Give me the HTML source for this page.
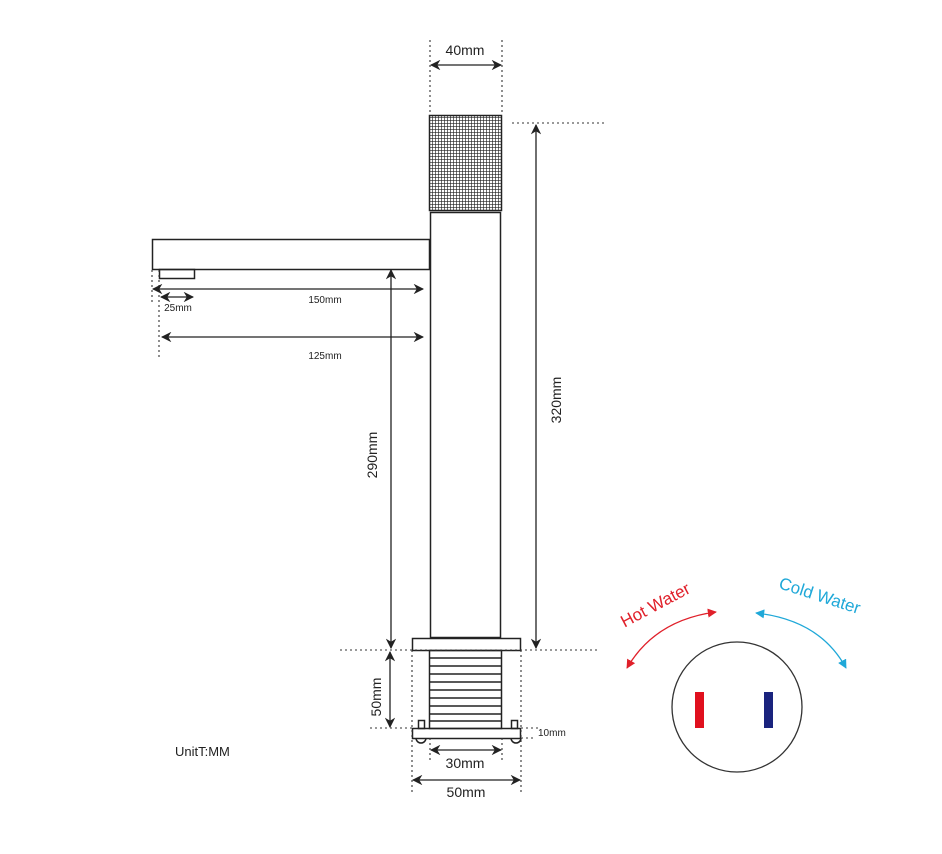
<!DOCTYPE html>
<html><head><style>html,body{margin:0;padding:0;background:#fff}svg{display:block}</style></head><body>
<svg width="942" height="854" viewBox="0 0 942 854" xmlns="http://www.w3.org/2000/svg" font-family="Liberation Sans, sans-serif">
<defs>
<pattern id="g" width="3" height="3" patternUnits="userSpaceOnUse"><rect width="3" height="3" fill="#fff"/><path d="M0 0H3M0 0V3" stroke="#222" stroke-width="1.3"/></pattern>
<marker id="a" viewBox="0 0 10 10" refX="9" refY="5" markerWidth="8" markerHeight="8" orient="auto-start-reverse"><path d="M0 0L10 5L0 10L3 5z" fill="#222"/></marker>
<marker id="r" viewBox="0 0 10 10" refX="9" refY="5" markerWidth="7" markerHeight="7" orient="auto-start-reverse"><path d="M0 0L10 5L0 10z" fill="#e0202a"/></marker>
<marker id="c" viewBox="0 0 10 10" refX="9" refY="5" markerWidth="7" markerHeight="7" orient="auto-start-reverse"><path d="M0 0L10 5L0 10z" fill="#1fa8d8"/></marker>
</defs>
<g fill="none" stroke="#222" stroke-width="1.5">
<rect x="429.5" y="115.5" width="72" height="95" fill="url(#g)"/>
<rect x="430.5" y="212.5" width="70" height="425"/>
<rect x="152.5" y="239.5" width="277" height="30"/>
<rect x="159.5" y="269.5" width="35" height="9"/>
<rect x="412.5" y="638.5" width="108" height="12"/>
<rect x="429.5" y="650.5" width="72" height="78"/>
<path d="M430 658H501M430 666H501M430 674H501M430 682H501M430 690H501M430 698H501M430 706H501M430 714H501M430 721H501"/>
<rect x="412.5" y="728.5" width="108" height="10"/>
<rect x="418.5" y="720.5" width="6" height="8"/>
<rect x="511.5" y="720.5" width="6" height="8"/>
<path d="M416 738a5 5 0 0 0 10 0M511 738a5 5 0 0 0 10 0"/>
</g>
<g stroke="#333" stroke-width="1.1" stroke-dasharray="2 3" fill="none">
<path d="M430 40V115M502 40V115M512 123H604M152 270V305M159 270V357M340 650H600M370 728H412M521 728H540M521 738H535M412 650V795M521 650V795M430 738V762M502 738V762"/>
</g>
<g stroke="#222" stroke-width="1.3" fill="none">
<path d="M431 65H501" marker-start="url(#a)" marker-end="url(#a)"/>
<path d="M536 125V648" marker-start="url(#a)" marker-end="url(#a)"/>
<path d="M391 270V648" marker-start="url(#a)" marker-end="url(#a)"/>
<path d="M153 289H423" marker-start="url(#a)" marker-end="url(#a)"/>
<path d="M161 297H193" marker-start="url(#a)" marker-end="url(#a)"/>
<path d="M162 337H423" marker-start="url(#a)" marker-end="url(#a)"/>
<path d="M390 652V727" marker-start="url(#a)" marker-end="url(#a)"/>
<path d="M431 750H501" marker-start="url(#a)" marker-end="url(#a)"/>
<path d="M413 780H520" marker-start="url(#a)" marker-end="url(#a)"/>
</g>
<g fill="#222">
<text x="465" y="55" font-size="14" text-anchor="middle">40mm</text>
<text x="325" y="303" font-size="10" text-anchor="middle">150mm</text>
<text x="178" y="311" font-size="10" text-anchor="middle">25mm</text>
<text x="325" y="359" font-size="10" text-anchor="middle">125mm</text>
<text transform="translate(561,400) rotate(-90)" font-size="14" text-anchor="middle">320mm</text>
<text transform="translate(377,455) rotate(-90)" font-size="14" text-anchor="middle">290mm</text>
<text transform="translate(381,697) rotate(-90)" font-size="14" text-anchor="middle">50mm</text>
<text x="538" y="736" font-size="10">10mm</text>
<text x="465" y="768" font-size="14" text-anchor="middle">30mm</text>
<text x="466" y="797" font-size="14" text-anchor="middle">50mm</text>
<text x="175" y="756" font-size="13">UnitT:MM</text>
</g>
<circle cx="737" cy="707" r="65" fill="none" stroke="#333" stroke-width="1.3"/>
<rect x="695" y="692" width="9" height="36" fill="#e0101e"/>
<rect x="764" y="692" width="9" height="36" fill="#1a237e"/>
<path d="M627 668Q655 620 716 612" fill="none" stroke="#e0202a" stroke-width="1.3" marker-start="url(#r)" marker-end="url(#r)"/>
<path d="M756 613Q820 620 846 668" fill="none" stroke="#1fa8d8" stroke-width="1.3" marker-start="url(#c)" marker-end="url(#c)"/>
<text transform="translate(658,610) rotate(-28)" font-size="17" fill="#e0202a" text-anchor="middle">Hot Water</text>
<text transform="translate(818,601) rotate(18)" font-size="17" fill="#1fa8d8" text-anchor="middle">Cold Water</text>
</svg>
</body></html>
